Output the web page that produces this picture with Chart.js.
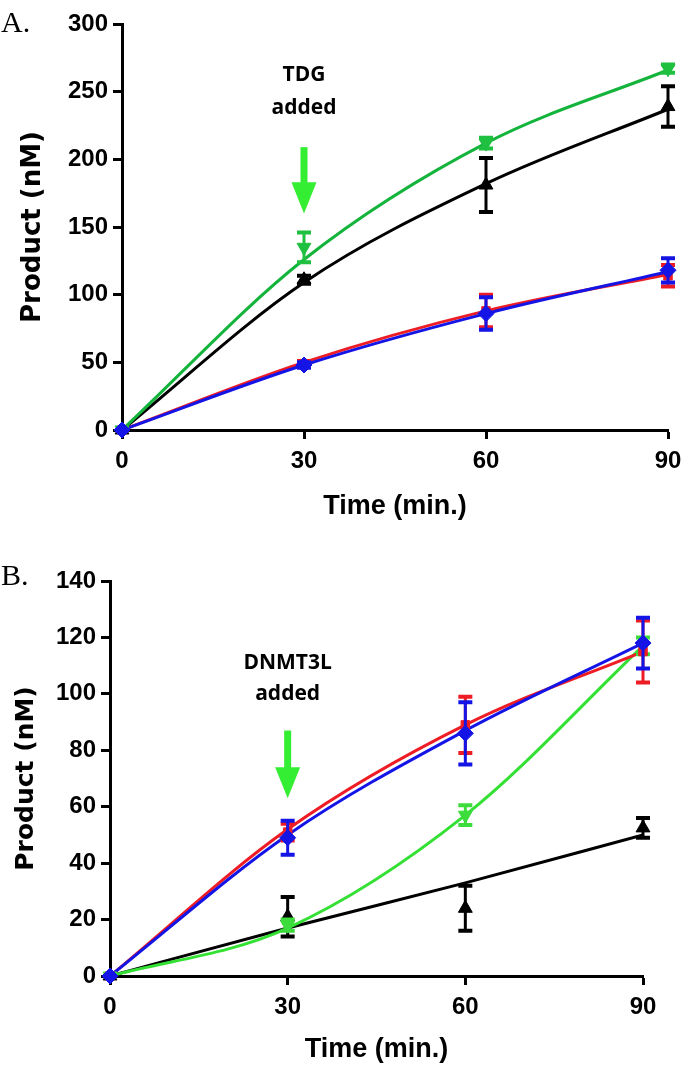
<!DOCTYPE html>
<html>
<head>
<meta charset="utf-8">
<script src="https://cdn.jsdelivr.net/npm/chart.js@4.4.0/dist/chart.umd.min.js"></script>
<style>
  html, body { margin: 0; padding: 0; background: #fff; }
  #wrapA { position: absolute; left: 0; top: 0; }
  #wrapB { position: absolute; left: 0; top: 540px; }
</style>
</head>
<body>
<div id="wrapA"><canvas id="chartA" width="693" height="530"></canvas></div>
<div id="wrapB"><canvas id="chartB" width="693" height="535"></canvas></div>
<script>
const times = [0, 30, 60, 90];

// panel A - TDG added at 30 min
const aYTicks = [0, 50, 100, 150, 200, 250, 300];
const aBlackMean = [0, 111, 181, 239];
const aBlackErr  = [0, 3, 20, 15];
const aGreenMean = [0, 135, 212, 267];
const aGreenErr  = [0, 11, 4, 3];
const aRedMean   = [0, 49, 88, 114];
const aRedErr    = [0, 2, 12, 8];
const aBlueMean  = [0, 48, 86, 118];
const aBlueErr   = [0, 2, 12, 9];
// fitted curves, read at each time point
const aBlackFit = [0, 109, 182, 237];
const aGreenFit = [0, 126, 212, 266];
const aRedFit   = [0, 50, 88, 115];
const aBlueFit  = [0, 48, 86, 117];

// panel B - DNMT3L added at 30 min
const bYTicks = [0, 20, 40, 60, 80, 100, 120, 140];
const bBlackMean = [0, 21, 24, 52.5];
const bBlackErr  = [0, 7, 8, 3.5];
const bGreenMean = [0, 18, 57, 117];
const bGreenErr  = [0, 2, 3.5, 3];
const bRedMean   = [0, 51, 89, 115];
const bRedErr    = [0, 3, 10, 11];
const bBlueMean  = [0, 49, 86, 118];
const bBlueErr   = [0, 6, 11, 9];
const bBlackFit = [0, 17, 33, 50];
const bGreenFit = [0, 17, 57, 117];
const bRedFit   = [0, 52, 89, 115];
const bBlueFit  = [0, 50, 87, 118];

const BLACK = "#000000";
const RED = "#ee1c24";
const BLUE = "#1414e6";

// use a narrow face for the tick numbers if there is one
const probe = document.createElement("canvas").getContext("2d");
probe.font = "bold 28px 'Liberation Sans Narrow', monospace";
const w1 = probe.measureText("0123456789").width;
probe.font = "bold 28px monospace";
const w2 = probe.measureText("0123456789").width;
const hasNarrow = Math.abs(w1 - w2) > 0.5;
const tickFont = hasNarrow
  ? { family: "'Liberation Sans Narrow'", size: 27, weight: "bold" }
  : { family: "'Liberation Sans', Arial", size: 24, weight: "bold" };
const xTitleFont = hasNarrow
  ? { family: "'Liberation Sans Narrow'", size: 31, weight: "bold" }
  : { family: "'Liberation Sans', Arial", size: 27, weight: "bold" };

function pts(ys) {
  return times.map((t, i) => ({ x: t, y: ys[i] }));
}

function fitLine(ys, color, order) {
  return {
    type: "line",
    data: pts(ys),
    borderColor: color,
    borderWidth: 3,
    pointRadius: 0,
    cubicInterpolationMode: "monotone",
    fill: false,
    order: order,
  };
}

function markers(ys, errs, color, style, radius, rot, order) {
  return {
    type: "scatter",
    data: pts(ys),
    errors: errs,
    showLine: false,
    borderColor: color,
    backgroundColor: color,
    pointStyle: style,
    pointRadius: radius,
    rotation: rot,
    borderWidth: 1,
    clip: false,
    order: order,
  };
}

// error bars drawn right after each marker dataset
const errorBars = {
  id: "errorBars",
  afterDatasetDraw(chart, args) {
    const ds = chart.data.datasets[args.index];
    if (!ds.errors) return;
    const ctx = chart.ctx;
    const x = chart.scales.x, y = chart.scales.y;
    ctx.save();
    ctx.strokeStyle = ds.borderColor;
    ds.data.forEach((p, i) => {
      const e = ds.errors[i];
      if (!e) return;
      const px = x.getPixelForValue(p.x);
      const top = y.getPixelForValue(p.y + e);
      const bot = y.getPixelForValue(p.y - e);
      ctx.lineWidth = 3;
      ctx.beginPath();
      ctx.moveTo(px, top);
      ctx.lineTo(px, bot);
      ctx.stroke();
      ctx.lineWidth = 4;
      ctx.beginPath();
      ctx.moveTo(px - 7, top);
      ctx.lineTo(px + 7, top);
      ctx.moveTo(px - 7, bot);
      ctx.lineTo(px + 7, bot);
      ctx.stroke();
    });
    ctx.restore();
  },
};

// panel letter, "added" note and green arrow
const notes = {
  id: "notes",
  afterDraw(chart, args, o) {
    const ctx = chart.ctx;
    const x = chart.scales.x, y = chart.scales.y;
    ctx.save();
    ctx.fillStyle = "#000";
    ctx.font = "30px 'Liberation Serif'";
    ctx.textAlign = "left";
    ctx.textBaseline = "alphabetic";
    ctx.fillText(o.letter, 1, o.letterY);

    const cx = x.getPixelForValue(o.at);
    ctx.font = "bold 21px 'Open Sans'";
    ctx.textAlign = "center";
    ctx.textBaseline = "middle";
    o.lines.forEach((s, i) => ctx.fillText(s, cx, y.getPixelForValue(o.lineY[i])));

    const yTop = y.getPixelForValue(o.arrow[0]);
    const yHead = y.getPixelForValue(o.arrow[1]);
    const yTip = y.getPixelForValue(o.arrow[2]);
    ctx.fillStyle = "#33ee33";
    ctx.fillRect(cx - 3.5, yTop, 7, yHead - yTop + 1);
    ctx.beginPath();
    ctx.moveTo(cx - 12.5, yHead);
    ctx.lineTo(cx + 12.5, yHead);
    ctx.lineTo(cx, yTip);
    ctx.closePath();
    ctx.fill();
    ctx.restore();
  },
};

function makeChart(id, cfg) {
  return new Chart(document.getElementById(id), {
    data: { datasets: cfg.datasets },
    options: {
      responsive: false,
      animation: false,
      layout: { padding: { left: 0, top: cfg.top, right: cfg.right, bottom: 0 } },
      plugins: {
        legend: { display: false },
        tooltip: { enabled: false },
        notes: cfg.notes,
      },
      scales: {
        x: {
          type: "linear",
          min: 0,
          max: 90,
          ticks: { stepSize: 30, color: "#000", font: tickFont, padding: 8 },
          grid: { drawOnChartArea: false, tickLength: 9, tickWidth: 3, tickColor: "#000" },
          border: { width: 3, color: "#000" },
          title: {
            display: true,
            text: "Time (min.)",
            color: "#000",
            font: xTitleFont,
            padding: { top: 0, bottom: cfg.xTitlePad },
          },
          afterFit: (s) => { s.height = cfg.xHeight; },
        },
        y: {
          type: "linear",
          min: cfg.yTicks[0],
          max: cfg.yTicks[cfg.yTicks.length - 1],
          afterBuildTicks: (s) => { s.ticks = cfg.yTicks.map((v) => ({ value: v })); },
          ticks: { color: "#000", font: tickFont, padding: 5 },
          grid: { drawOnChartArea: false, tickLength: 9, tickWidth: 3, tickColor: "#000" },
          border: { width: 3, color: "#000" },
          title: {
            display: true,
            text: "Product (nM)",
            color: "#000",
            font: { family: "'DejaVu Sans'", size: cfg.yTitleSize, weight: "bold" },
            padding: { top: cfg.yTitlePad, bottom: 0 },
          },
          afterFit: (s) => { s.width = cfg.yWidth; },
        },
      },
    },
    plugins: [errorBars, notes],
  });
}

makeChart("chartA", {
  top: 24, right: 25, xHeight: 100, yWidth: 122, xTitlePad: 7, yTitlePad: 18, yTitleSize: 26,
  yTicks: aYTicks,
  notes: { letter: "A.", letterY: 32, at: 30, lines: ["TDG", "added"], lineY: [262, 238], arrow: [209, 183, 160] },
  datasets: [
    fitLine(aBlackFit, BLACK, 8),
    fitLine(aGreenFit, "#14b43c", 7),
    fitLine(aRedFit, RED, 6),
    fitLine(aBlueFit, BLUE, 5),
    markers(aBlackMean, aBlackErr, BLACK, "triangle", 8, 0, 4),
    markers(aGreenMean, aGreenErr, "#1fc040", "triangle", 8, 180, 3),
    markers(aRedMean, aRedErr, RED, "rect", 6, 0, 2),
    markers(aBlueMean, aBlueErr, BLUE, "rectRot", 8, 0, 1),
  ],
});

makeChart("chartB", {
  top: 41, right: 50, xHeight: 99, yWidth: 110, xTitlePad: 9, yTitlePad: 11, yTitleSize: 25,
  yTicks: bYTicks,
  notes: { letter: "B.", letterY: 45, at: 30, lines: ["DNMT3L", "added"], lineY: [111, 100], arrow: [87, 74, 63] },
  datasets: [
    fitLine(bBlackFit, BLACK, 8),
    fitLine(bGreenFit, "#35e035", 7),
    fitLine(bRedFit, RED, 6),
    fitLine(bBlueFit, BLUE, 5),
    markers(bBlackMean, bBlackErr, BLACK, "triangle", 8, 0, 4),
    markers(bGreenMean, bGreenErr, "#3cdc3c", "triangle", 8, 180, 3),
    markers(bRedMean, bRedErr, RED, "rect", 6, 0, 2),
    markers(bBlueMean, bBlueErr, BLUE, "rectRot", 8, 0, 1),
  ],
});
</script>
</body>
</html>
